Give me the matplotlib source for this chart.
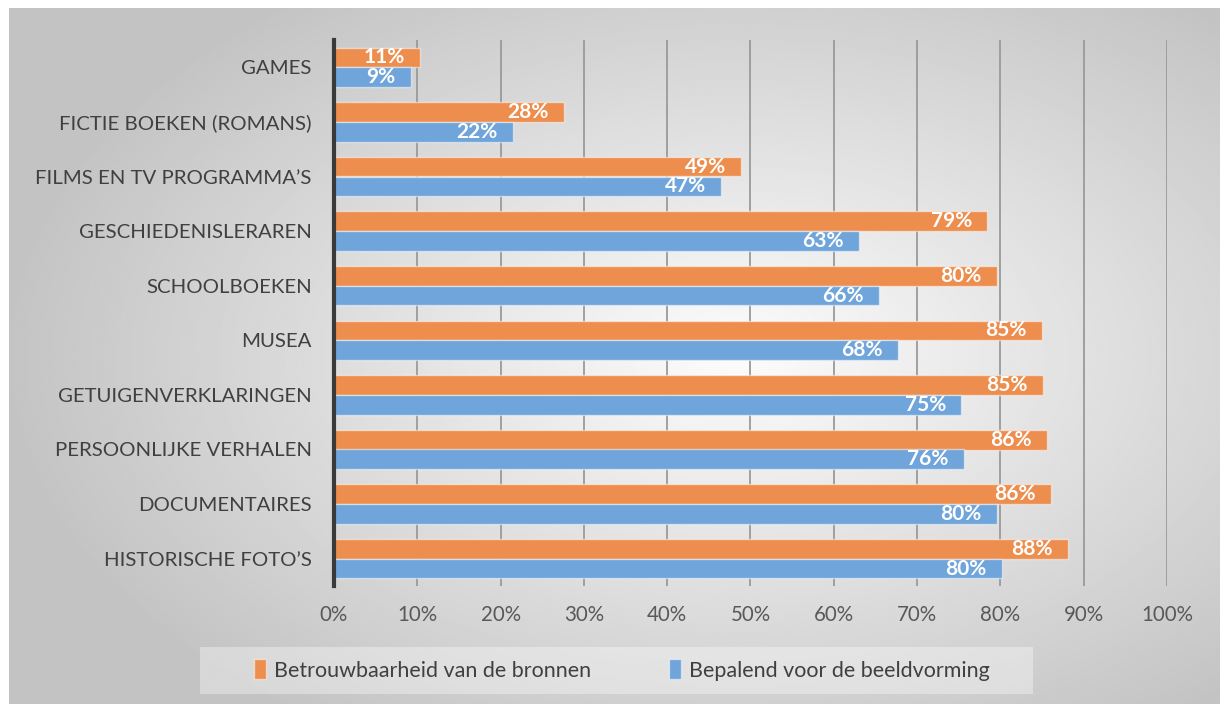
import numpy as np
import matplotlib.pyplot as plt

# data
categories = ["GAMES", "FICTIE BOEKEN (ROMANS)", "FILMS EN TV PROGRAMMA’S",
              "GESCHIEDENISLERAREN", "SCHOOLBOEKEN", "MUSEA",
              "GETUIGENVERKLARINGEN", "PERSOONLIJKE VERHALEN",
              "DOCUMENTAIRES", "HISTORISCHE FOTO’S"]
betrouwbaar = [10.3, 27.6, 48.9, 78.4, 79.6, 85.0, 85.1, 85.6, 86.1, 88.1]
betrouwbaar_lbl = [11, 28, 49, 79, 80, 85, 85, 86, 86, 88]
bepalend = [9.2, 21.5, 46.5, 63.0, 65.4, 67.7, 75.3, 75.6, 79.6, 80.2]
bepalend_lbl = [9, 22, 47, 63, 66, 68, 75, 76, 80, 80]
series_names = ["Betrouwbaarheid van de bronnen", "Bepalend voor de beeldvorming"]
xticks = list(range(0, 101, 10))

orange = "#ED8E4E"
blue = "#6FA5DA"
txt = "#404040"

plt.rcParams["font.family"] = ["Lato", "DejaVu Sans"]

W, H = 1220, 704
fig = plt.figure(figsize=(W / 100, H / 100), dpi=100)
fig.patch.set_facecolor("white")

# radial gray background
bg = fig.add_axes([9 / W, 0, 1 - 9 / W, 1 - 8 / H])
yy, xx = np.mgrid[0:1:300j, 0:1:500j]
r = np.sqrt(((xx - 0.6) / 0.75) ** 2 + ((yy - 0.5) / 0.8) ** 2)
shade = np.clip(252 - 70 * r, 196, 252) / 255.0
bg.imshow(shade, cmap="gray", vmin=0, vmax=1, aspect="auto",
          extent=[0, 1, 0, 1], interpolation="bilinear")
bg.axis("off")

# legend panel
leg_bg = fig.add_axes([200 / W, 1 - 694 / H, 833 / W, 47 / H])
leg_bg.set_facecolor((1, 1, 1, 0.35))
leg_bg.set_xticks([])
leg_bg.set_yticks([])
for s in leg_bg.spines.values():
    s.set_visible(False)

ax = fig.add_axes([334 / W, 1 - 586 / H, 833 / W, 546 / H])
ax.patch.set_alpha(0)

y = np.arange(len(categories))
h = 0.36
b1 = ax.barh(y - h / 2, betrouwbaar, height=h, color=orange,
             edgecolor=(1, 1, 1, 0.5), linewidth=1, zorder=3, label=series_names[0])
b2 = ax.barh(y + h / 2, bepalend, height=h, color=blue,
             edgecolor=(1, 1, 1, 0.5), linewidth=1, zorder=3, label=series_names[1])

for bars, lbls in ((b1, betrouwbaar_lbl), (b2, bepalend_lbl)):
    for rect, v in zip(bars, lbls):
        ax.annotate(f"{v}%", (rect.get_width(), rect.get_y() + rect.get_height() / 2),
                    xytext=(-11, 0), textcoords="offset points",
                    ha="right", va="center", color="white",
                    fontsize=15, fontweight="bold", zorder=4)

ax.set_xlim(0, 100)
ax.set_ylim(len(categories) - 0.5, -0.5)
ax.set_xticks(xticks)
ax.set_xticklabels([f"{t}%" for t in xticks])
ax.set_yticks(y)
ax.set_yticklabels(categories)
ax.tick_params(axis="y", length=0, pad=16, labelsize=14.7, labelcolor=txt)
ax.tick_params(axis="x", length=0, pad=14, labelsize=14.8, labelcolor="#595959")
ax.grid(axis="x", color="#9a9a9a", linewidth=1.3, zorder=0)
for side in ("top", "right", "bottom"):
    ax.spines[side].set_visible(False)
ax.spines["left"].set_color("#3a3a3a")
ax.spines["left"].set_linewidth(3)
ax.spines["left"].set_zorder(5)

leg = fig.legend(handles=[b1, b2], loc="center", bbox_to_anchor=(622 / W, 1 - 670 / H),
                 ncol=2, frameon=False, fontsize=15.5, handlelength=0.55,
                 handleheight=1.0, handletextpad=0.4, columnspacing=3.6)
for t in leg.get_texts():
    t.set_color(txt)

fig.savefig("out.png", dpi=100)
